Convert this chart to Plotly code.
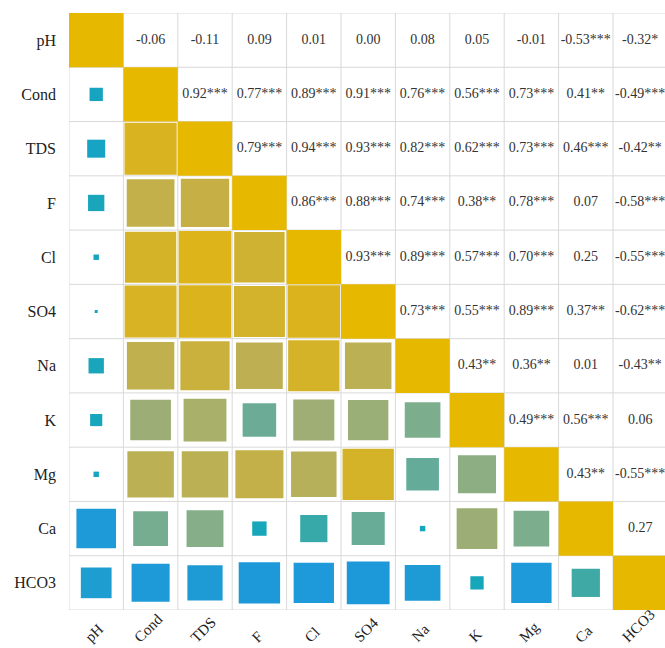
import math
import plotly.graph_objects as go

variables = ["pH", "Cond", "TDS", "F", "Cl", "SO4", "Na", "K", "Mg", "Ca", "HCO3"]

# upper-triangle correlation coefficients, row by row (to the right of the diagonal)
r_pH = [-0.06, -0.11, 0.09, 0.01, 0.003, 0.08, 0.05, -0.01, -0.53, -0.32]
r_Cond = [0.92, 0.77, 0.89, 0.91, 0.76, 0.56, 0.73, 0.41, -0.49]
r_TDS = [0.79, 0.94, 0.93, 0.82, 0.62, 0.73, 0.46, -0.42]
r_F = [0.86, 0.88, 0.74, 0.38, 0.78, 0.07, -0.58]
r_Cl = [0.93, 0.89, 0.57, 0.70, 0.25, -0.55]
r_SO4 = [0.73, 0.55, 0.89, 0.37, -0.62]
r_Na = [0.43, 0.36, 0.01, -0.43]
r_K = [0.49, 0.56, 0.06]
r_Mg = [0.43, -0.55]
r_Ca = [0.27]

# significance stars, same layout
s_pH = ["", "", "", "", "", "", "", "", "***", "*"]
s_Cond = ["***", "***", "***", "***", "***", "***", "***", "**", "***"]
s_TDS = ["***", "***", "***", "***", "***", "***", "***", "**"]
s_F = ["***", "***", "***", "**", "***", "", "***"]
s_Cl = ["***", "***", "***", "***", "", "***"]
s_SO4 = ["***", "***", "***", "**", "***"]
s_Na = ["**", "**", "", "**"]
s_K = ["***", "***", ""]
s_Mg = ["**", "***"]
s_Ca = [""]

upper_r = [r_pH, r_Cond, r_TDS, r_F, r_Cl, r_SO4, r_Na, r_K, r_Mg, r_Ca, []]
upper_s = [s_pH, s_Cond, s_TDS, s_F, s_Cl, s_SO4, s_Na, s_K, s_Mg, s_Ca, []]

# colour scale (correlation value -> colour)
color_stops = [
    (-1.0, "#1A93DE"), (-0.5, "#1E9AD8"), (-0.3, "#1D9DCF"), (0.0, "#14A6BE"),
    (0.1, "#1AA6B9"), (0.25, "#36A9A8"), (0.38, "#6CAC96"), (0.46, "#86AE88"),
    (0.56, "#9CAE76"), (0.62, "#A8B06A"), (0.73, "#BCB055"), (0.79, "#C6B046"),
    (0.86, "#D0B232"), (0.94, "#DDB41A"), (1.0, "#E6B800"),
]

SERIF = "Liberation Serif, Times New Roman, Tinos, DejaVu Serif, serif"


def hex2rgb(h):
    h = h.lstrip("#")
    return tuple(int(h[k:k + 2], 16) for k in (0, 2, 4))


def colour_of(v):
    for (a, ca), (b, cb) in zip(color_stops[:-1], color_stops[1:]):
        if a <= v <= b:
            t = 0 if b == a else (v - a) / (b - a)
            c1, c2 = hex2rgb(ca), hex2rgb(cb)
            return "rgb(%d,%d,%d)" % tuple(round(c1[k] + (c2[k] - c1[k]) * t) for k in range(3))
    return color_stops[-1][1]


n = len(variables)
R = [[1.0] * n for _ in range(n)]
S = [[""] * n for _ in range(n)]
for i in range(n):
    for k, v in enumerate(upper_r[i]):
        j = i + 1 + k
        R[i][j] = v
        R[j][i] = v
        S[i][j] = upper_s[i][k]

shapes = []
grid_col = "#d9d9d9"
for g in range(n + 1):
    b = g - 0.5
    shapes.append(dict(type="line", xref="x", yref="y", x0=b, x1=b, y0=-0.5, y1=n - 0.5,
                       line=dict(color=grid_col, width=1), layer="below"))
    shapes.append(dict(type="line", xref="x", yref="y", x0=-0.5, x1=n - 0.5, y0=b, y1=b,
                       line=dict(color=grid_col, width=1), layer="below"))

for i in range(n):
    for j in range(i + 1):
        v = R[i][j]
        half = math.sqrt(abs(v)) / 2
        c = colour_of(v)
        shapes.append(dict(type="rect", xref="x", yref="y",
                           x0=j - half, x1=j + half, y0=i - half, y1=i + half,
                           fillcolor=c, line=dict(width=0), layer="above"))

tx, ty, tt = [], [], []
for i in range(n):
    for j in range(i + 1, n):
        tx.append(j)
        ty.append(i)
        tt.append(f"{R[i][j]:.2f}{S[i][j]}")

fig = go.Figure()
fig.add_trace(go.Scatter(x=tx, y=ty, text=tt, mode="text",
                         textfont=dict(family=SERIF, size=14, color="#333333"),
                         hoverinfo="skip", showlegend=False))

annotations = []
for j, name in enumerate(variables):
    annotations.append(dict(x=j, y=-0.064, xref="x", yref="paper", text=name,
                            showarrow=False, textangle=-45, xanchor="center", yanchor="bottom",
                            xshift=-2,
                            font=dict(family=SERIF, size=15, color="#222222")))

fig.update_layout(
    width=665, height=648,
    margin=dict(l=69, r=0, t=13, b=38),
    paper_bgcolor="white", plot_bgcolor="white",
    shapes=shapes, annotations=annotations,
    xaxis=dict(range=[-0.5, 10.456], tickvals=list(range(n)), showticklabels=False,
               showgrid=False, zeroline=False, showline=False, ticks="", fixedrange=True),
    yaxis=dict(range=[n - 0.5, -0.5], tickvals=list(range(n)), ticktext=variables,
               showgrid=False, zeroline=False, showline=False, ticks="", fixedrange=True,
               ticklabelstandoff=12,
               tickfont=dict(family=SERIF, size=16, color="#222222")),
)

fig.write_html(
    "out.html",
    config={"displayModeBar": False},
    post_script="document.body.style.margin='0px';"
                "document.documentElement.style.overflow='hidden';"
                "document.body.style.overflow='hidden';",
)
